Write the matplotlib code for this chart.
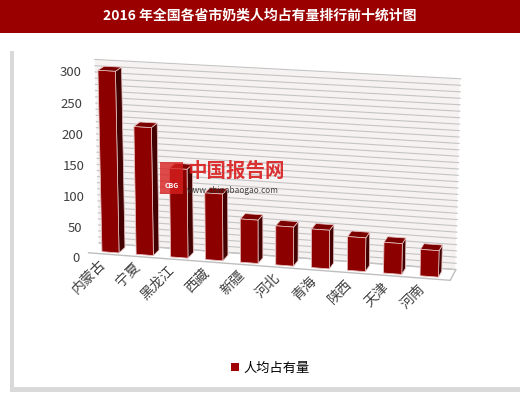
import matplotlib
matplotlib.use("Agg")
import matplotlib.pyplot as plt
import numpy as np
from matplotlib.patches import Rectangle, Patch

plt.rcParams['font.family'] = ['Noto Sans CJK SC', 'DejaVu Sans']

title = "2016 年全国各省市奶类人均占有量排行前十统计图"
categories = ["内蒙古", "宁夏", "黑龙江", "西藏", "新疆", "河北", "青海", "陕西", "天津", "河南"]
values = [293, 207, 144, 108, 70, 63, 62, 54, 49, 42]
series_name = "人均占有量"
z_ticks = [0, 50, 100, 150, 200, 250, 300]

fig = plt.figure(figsize=(5.2, 3.96), dpi=100)
fig.patch.set_facecolor('white')

# title band
fig.add_artist(Rectangle((0, 1 - 33/396), 1, 33/396, transform=fig.transFigure,
                         facecolor='#9b0000', edgecolor='none', zorder=-5))
fig.text(0.5, 1 - 16/396, title, ha='center', va='center', color='white',
         fontsize=10, fontweight='bold')
# panel shadow + panel
fig.add_artist(Rectangle((10/520, 4/396), 1, (387-46)/396, transform=fig.transFigure,
                         facecolor='#d9d9d9', edgecolor='none', zorder=-5))
fig.add_artist(Rectangle((14/520, 9/396), 1, (387-50)/396, transform=fig.transFigure,
                         facecolor='white', edgecolor='none', zorder=-4))

ax = fig.add_axes([0.02, 0.165, 0.98, 0.80], projection='3d')
ax.set_facecolor((1, 1, 1, 0))
ax.set_proj_type('persp', focal_length=1.2)

n = len(categories)
xs = np.arange(n)
bw = 0.5
xlo, xhi = -0.6, n - 0.4

# wall gridlines
for z in range(0, 301, 10):
    ax.plot([xlo, xhi], [1, 1], [z, z], color='#c4c4c4', lw=0.8)

ax.bar3d(xs - bw/2, np.full(n, 0.2), np.zeros(n), bw, 0.55, values,
         color='#a00000', edgecolor='#f0d0d0', linewidth=0.5, shade=True)

for art in list(ax.collections) + list(ax.lines):
    art.set_clip_on(False)

ax.set_xlim(xlo, xhi, view_margin=0)
ax.set_ylim(0, 1, view_margin=0)
ax.set_zlim(0, 300, view_margin=0)

ax.grid(False)
ax.xaxis.set_pane_color((1, 1, 1, 0))
ax.xaxis.pane.set_edgecolor((1, 1, 1, 0))
ax.yaxis.set_pane_color('#f7f2f2')
ax.yaxis.pane.set_edgecolor((1, 1, 1, 0))
ax.zaxis.set_pane_color('white')
ax.zaxis.pane.set_edgecolor('#bfbfbf')

for a in (ax.xaxis, ax.yaxis, ax.zaxis):
    a.line.set_color((1, 1, 1, 0))
    a._axinfo['tick']['inward_factor'] = 0
    a._axinfo['tick']['outward_factor'] = 0

ax.zaxis.set_ticks_position('lower')
ax.set_yticks([])
ax.set_zticks(z_ticks)
ax.set_zticklabels([str(t) for t in z_ticks], fontsize=9.5, color='#404040')
ax.set_xticks(xs)
ax.set_xticklabels(categories, rotation=45, ha='right', va='top', fontsize=10, color='#404040')
ax.tick_params(axis='z', pad=-4)
ax.tick_params(axis='x', pad=-6)

ax.set_box_aspect((10, 0.95, 5.2), zoom=1.3)
ax.view_init(elev=15, azim=-76)

# watermark
fig.text(0.36, 0.553, "中国报告网", color='#d81e1e', fontsize=14, fontweight='bold', alpha=0.9)
fig.text(0.36, 0.512, "www.chinabaogao.com", color='#333333', fontsize=6, alpha=0.9)
fig.add_artist(Rectangle((0.307, 0.51), 0.045, 0.08, transform=fig.transFigure,
                         facecolor='#d82020', edgecolor='none', alpha=0.8))
fig.text(0.3295, 0.525, "CBG", color='white', fontsize=5, ha='center', fontweight='bold')

fig.legend(handles=[Patch(facecolor='#a00000')], labels=[series_name],
           loc='center', bbox_to_anchor=(0.52, 0.07), frameon=False,
           fontsize=9.5, handlelength=0.6, handleheight=0.6, handletextpad=0.3)

fig.savefig("out.png", dpi=100)
